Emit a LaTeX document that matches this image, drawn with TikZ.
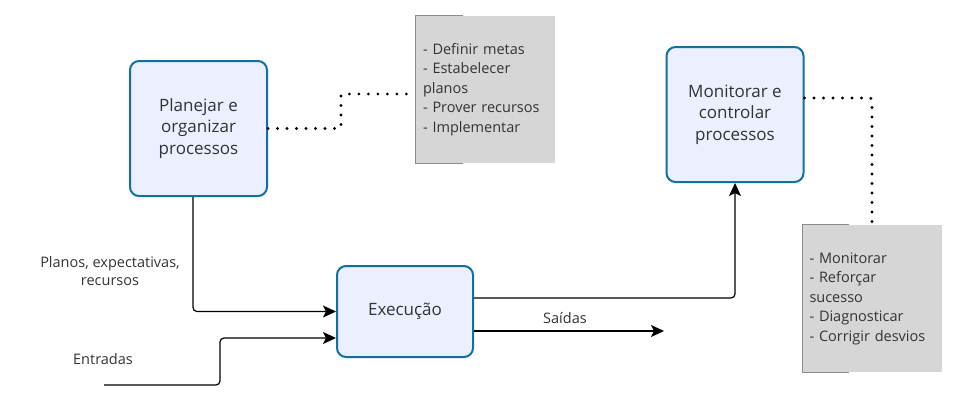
\documentclass[tikz,border=0pt]{standalone}
\usepackage{fontspec}
\setmainfont{Open Sans}
\usetikzlibrary{arrows.meta}

\definecolor{bordaazul}{RGB}{16,112,158}
\definecolor{fundoazul}{RGB}{235,239,255}
\definecolor{fundonota}{RGB}{214,214,214}
\definecolor{bordanota}{RGB}{140,140,140}
\definecolor{texto}{RGB}{51,51,51}

\begin{document}
\begin{tikzpicture}[x=1pt, y=-1pt,
	processo/.style={draw=bordaazul, line width=2pt, fill=fundoazul, rounded corners=9pt,
		minimum width=137pt, minimum height=135pt, align=center, text=texto,
		font=\fontsize{17}{21.5}\selectfont},
	nota/.style={fill=fundonota, minimum width=139pt, minimum height=147pt, text width=125pt,
		inner xsep=7pt, align=left, text=texto, font=\fontsize{14.5}{19.5}\selectfont},
	rotulo/.style={align=center, text=texto, font=\fontsize{14.5}{18}\selectfont},
	pontilhado/.style={line width=3.2pt, line cap=round, dash pattern=on 0pt off 9.5pt, rounded corners=2pt},
	seta/.style={line width=1.2pt, rounded corners=4pt, -{Stealth[length=13pt, width=12pt, inset=3pt]}}]
	\useasboundingbox (0, 0) rectangle (954, 400);

	\node [processo] (planejar) at (198.5, 128.5) {Planejar e\\organizar\\processos};
	\node [processo] (monitorar) at (735, 114.5) {Monitorar e\\controlar\\processos};
	\node [processo, minimum width=136pt, minimum height=91pt] (execucao) at (405, 311.5) {Execução};

	\node [nota] (nota1) at (485.5, 89.5) {- Definir metas\\- Estabelecer\\planos\\- Prover recursos\\- Implementar};
	\node [nota] (nota2) at (872, 298.5) {- Monitorar\\- Reforçar\\sucesso\\- Diagnosticar\\- Corrigir desvios};
	\foreach \n in {nota1, nota2} {
		\draw [bordanota, line width=1.2pt] ([xshift=47pt]\n.north west) -- (\n.north west) -- (\n.south west) -- ([xshift=47pt]\n.south west);
	}

	\draw [pontilhado] (planejar.east) -- ++(73, 0) |- ([yshift=-4.5pt]nota1.west);
	\draw [pontilhado] ([yshift=16.5pt]monitorar.east) -| (nota2.north);

	\coordinate (entrada) at (104, 385);
	\coordinate (saida) at (664, 331);

	\draw [seta] ([xshift=-5.5pt]planejar.south) |- (execucao.west);
	\draw [seta] (entrada) -- ++(116, 0) |- ([yshift=-26.5pt]execucao.west);
	\draw [seta] ([yshift=13.5pt]execucao.east) -| (monitorar.south);
	\draw [seta] ([yshift=-19.5pt]execucao.east) -- (saida);

	\node [rotulo] (planos) at (110, 271) {Planos, expectativas,\\recursos};
	\node [rotulo] (entradas) at (103, 359) {Entradas};
	\node [rotulo] (saidas) at (565, 318) {Saídas};
\end{tikzpicture}
\end{document}
